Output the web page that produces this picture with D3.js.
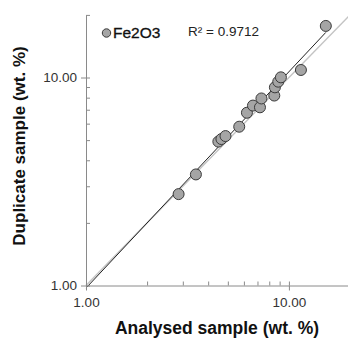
<!DOCTYPE html>
<html>
<head>
<meta charset="utf-8">
<script src="https://cdn.jsdelivr.net/npm/d3@7"></script>
<style>
  body { margin: 0; background: #fff; }
  svg { display: block; font-family: Arial, "Liberation Sans", sans-serif; }
</style>
</head>
<body>
<div id="graph"></div>
<script>
// Fe2O3 duplicate check
const analysed  = [2.86, 3.48, 4.49, 4.65, 4.87, 5.69, 6.21, 6.65, 7.20, 7.32, 8.47, 8.53, 8.86, 9.13, 11.46, 15.2]
const duplicate = [2.75, 3.42, 4.92, 5.06, 5.23, 5.80, 6.77, 7.33, 7.19, 7.93, 8.19, 8.97, 9.55, 10.02, 10.87, 17.7]
const majorTicks = [1, 10]
const minorTicks = [2, 3, 4, 5, 6, 7, 8, 9, 20]
const seriesName = 'Fe2O3'
const r2Label = 'R² = 0.9712'

const width = 348, height = 343

const svg = d3.select('#graph')
  .append('svg')
  .attr('width', width)
  .attr('height', height)

const x = d3.scaleLog().domain([1, 20]).range([86, 350])
const y = d3.scaleLog().domain([1, 20]).range([285.5, 14.9])

const axisColor = '#8a8a8a'
const fmt = d3.format('.2f')

// 1:1 line
svg.append('line')
  .attr('x1', x(1)).attr('y1', y(1))
  .attr('x2', x(20)).attr('y2', y(20))
  .attr('stroke', '#c4c4c4')
  .attr('stroke-width', 1.5)

// power trendline (straight in log-log), fitted from the points
const lx = analysed.map(Math.log10), ly = duplicate.map(Math.log10)
const mx = d3.mean(lx), my = d3.mean(ly)
const b = d3.sum(lx, (v, i) => (v - mx) * (ly[i] - my)) / d3.sum(lx, v => (v - mx) ** 2)
const a = my - b * mx
const fit = v => Math.pow(10, a + b * Math.log10(v))
svg.append('line')
  .attr('x1', x(1)).attr('y1', y(fit(1)))
  .attr('x2', x(d3.max(analysed))).attr('y2', y(fit(d3.max(analysed))))
  .attr('stroke', '#222')
  .attr('stroke-width', 1)

// X axis
const xMinor = svg.append('g')
  .attr('transform', 'translate(0,' + y(1) + ')')
  .call(d3.axisBottom(x).tickValues(minorTicks.concat(majorTicks)).tickSize(-4).tickFormat(''))
xMinor.select('.domain').remove()

const xMajor = svg.append('g')
  .attr('transform', 'translate(0,' + y(1) + ')')
  .call(d3.axisBottom(x).tickValues(majorTicks).tickSize(5).tickSizeOuter(0).tickPadding(7).tickFormat(fmt))
xMajor.selectAll('text').style('font-size', '13.5px').style('fill', '#333')

// Y axis
const yMinor = svg.append('g')
  .attr('transform', 'translate(' + x(1) + ',0)')
  .call(d3.axisLeft(y).tickValues(minorTicks.concat(majorTicks)).tickSize(-4).tickFormat(''))
yMinor.select('.domain').remove()

const yMajor = svg.append('g')
  .attr('transform', 'translate(' + x(1) + ',0)')
  .call(d3.axisLeft(y).tickValues(majorTicks).tickSize(5).tickSizeOuter(0).tickPadding(4).tickFormat(fmt))
yMajor.selectAll('text').style('font-size', '13.5px').style('fill', '#333')

svg.selectAll('.tick line, .domain').attr('stroke', axisColor)

// points
svg.append('g')
  .selectAll('circle')
  .data(analysed)
  .join('circle')
  .attr('cx', d => x(d))
  .attr('cy', (d, i) => y(duplicate[i]))
  .attr('r', 5.5)
  .attr('fill', '#a5a5a5')
  .attr('stroke', '#3a3a3a')
  .attr('stroke-width', 1)

// legend
svg.append('circle')
  .attr('cx', 106.5).attr('cy', 33)
  .attr('r', 4.2)
  .attr('fill', '#a5a5a5')
  .attr('stroke', '#3a3a3a')
svg.append('text')
  .attr('x', 113).attr('y', 38)
  .style('font-size', '15.5px')
  .style('fill', '#111')
  .style('stroke', '#111')
  .style('stroke-width', 0.3)
  .text(seriesName)
svg.append('text')
  .attr('x', 188).attr('y', 36)
  .style('font-size', '13.5px')
  .style('fill', '#222')
  .text(r2Label)

// axis titles
svg.append('text')
  .attr('x', 217).attr('y', 334)
  .attr('text-anchor', 'middle')
  .style('font-size', '17.5px')
  .style('font-weight', 'bold')
  .style('fill', '#111')
  .text('Analysed sample (wt. %)')

svg.append('text')
  .attr('transform', 'translate(25,146) rotate(-90)')
  .attr('text-anchor', 'middle')
  .style('font-size', '17px')
  .style('font-weight', 'bold')
  .style('fill', '#111')
  .text('Duplicate sample (wt. %)')
</script>
</body>
</html>
